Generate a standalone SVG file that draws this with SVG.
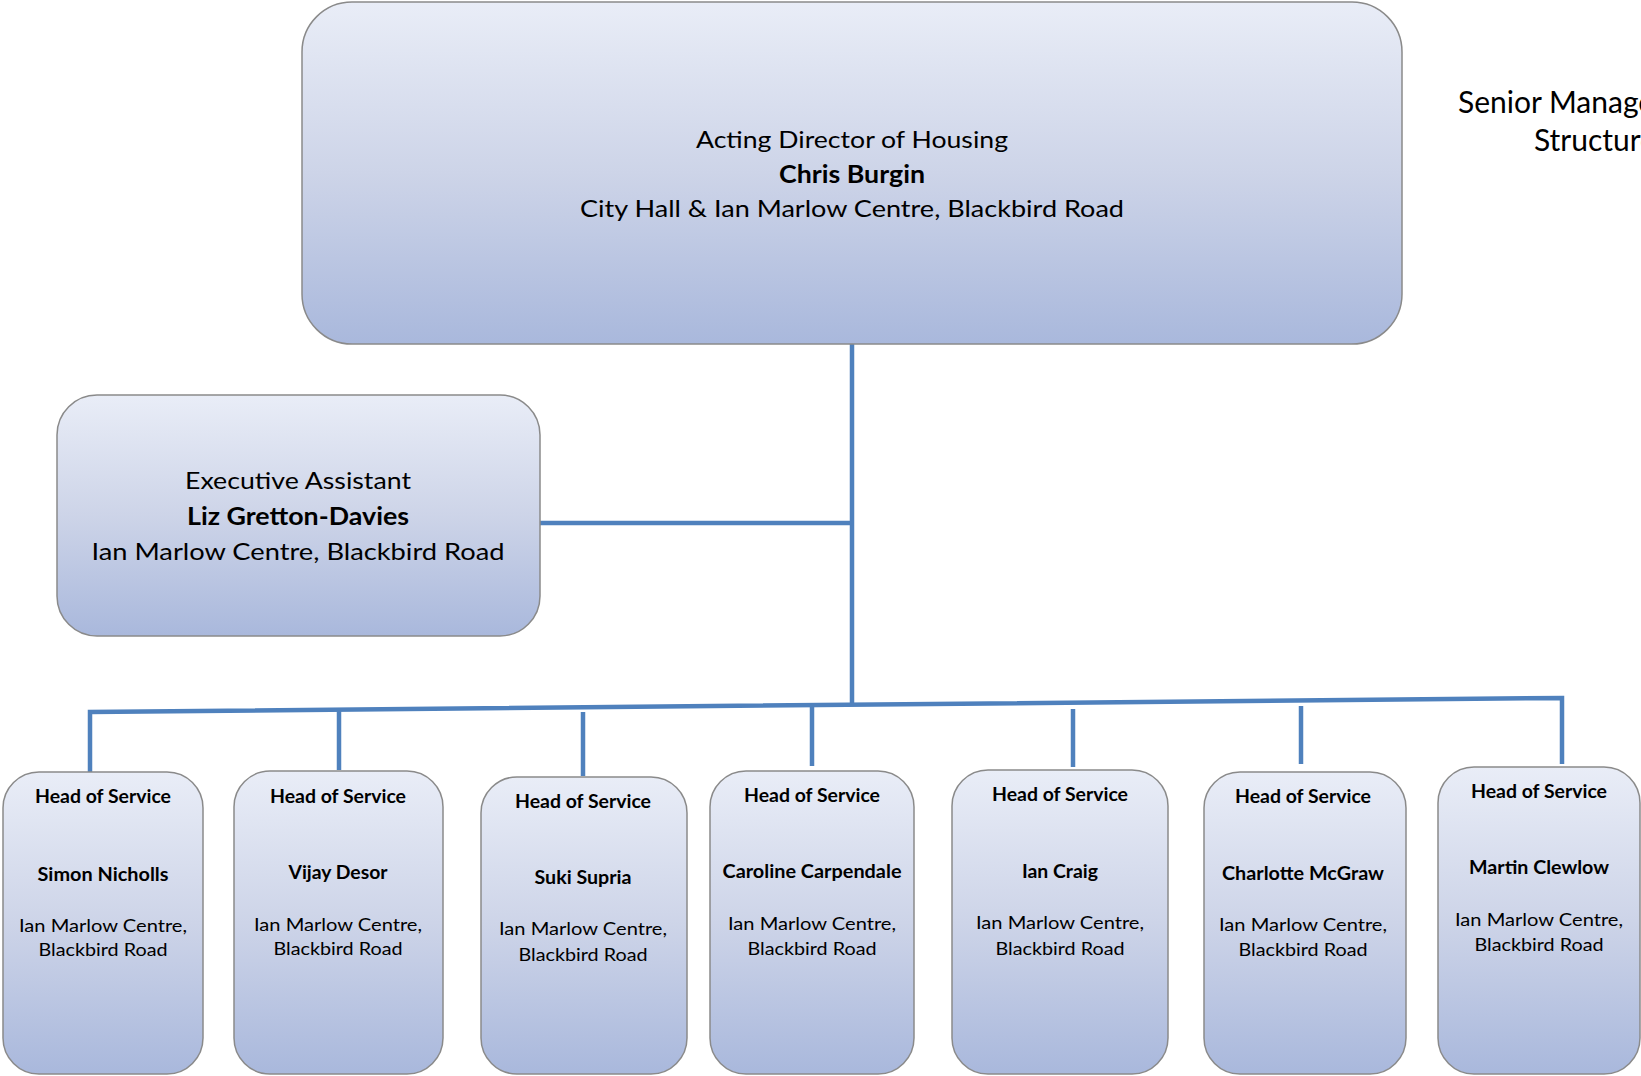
<svg xmlns="http://www.w3.org/2000/svg" width="1641" height="1076" viewBox="0 0 1641 1076">
<defs>
<linearGradient id="g" x1="0" y1="0" x2="0" y2="1">
<stop offset="0" stop-color="#e9edf7"/>
<stop offset="0.5" stop-color="#cdd4e8"/>
<stop offset="1" stop-color="#a9b8dc"/>
</linearGradient>
<style>
.box{fill:url(#g);stroke:#8a8a8a;stroke-width:1.5}
.t{font-family:Lato,"Liberation Sans",sans-serif;fill:#000;text-anchor:middle}
.big{font-size:24px}
.sm{font-size:18px}
.b{font-weight:bold}
.c{stroke:#4f81bd;stroke-width:4.5;fill:none}
</style>
</defs>
<rect width="1641" height="1076" fill="#fff"/>
<g id="connectors">
<line class="c" x1="852" y1="344" x2="852" y2="705"/>
<line class="c" x1="540" y1="523" x2="852" y2="523"/>
<polyline class="c" points="90,772 90,712 1562,698 1562,764"/>
<line class="c" x1="339" y1="711" x2="339" y2="770"/>
<line class="c" x1="583" y1="712" x2="583" y2="776"/>
<line class="c" x1="812" y1="707" x2="812" y2="766"/>
<line class="c" x1="1073" y1="709" x2="1073" y2="767"/>
<line class="c" x1="1301" y1="706" x2="1301" y2="764"/>
</g>
<g id="director">
<rect class="box" x="302" y="2" width="1100" height="342" rx="50"/>
<text class="t big" x="852" y="148" textLength="312" lengthAdjust="spacingAndGlyphs">Acting Director of Housing</text>
<text class="t big b" x="852" y="183" textLength="146" lengthAdjust="spacingAndGlyphs">Chris Burgin</text>
<text class="t big" x="852" y="217" textLength="544" lengthAdjust="spacingAndGlyphs">City Hall &amp; Ian Marlow Centre, Blackbird Road</text>
</g>
<g id="title">
<text class="t" x="1458" y="113" style="text-anchor:start;font-size:30px">Senior Management</text>
<text class="t" x="1534" y="151" style="text-anchor:start;font-size:30px">Structure</text>
</g>
<g id="assistant">
<rect class="box" x="57" y="395" width="483" height="241" rx="40"/>
<text class="t big" x="298" y="489" textLength="226" lengthAdjust="spacingAndGlyphs">Executive Assistant</text>
<text class="t big b" x="298" y="525" textLength="222" lengthAdjust="spacingAndGlyphs">Liz Gretton-Davies</text>
<text class="t big" x="298" y="560" textLength="413" lengthAdjust="spacingAndGlyphs">Ian Marlow Centre, Blackbird Road</text>
</g>
<g id="hos1">
<rect class="box" x="3" y="772" width="200" height="302" rx="36"/>
<text class="t sm b" x="103" y="803" textLength="136" lengthAdjust="spacingAndGlyphs">Head of Service</text>
<text class="t sm b" x="103" y="881" textLength="131" lengthAdjust="spacingAndGlyphs">Simon Nicholls</text>
<text class="t sm" x="103" y="932" textLength="168" lengthAdjust="spacingAndGlyphs">Ian Marlow Centre,</text>
<text class="t sm" x="103" y="956" textLength="129" lengthAdjust="spacingAndGlyphs">Blackbird Road</text>
</g>
<g id="hos2">
<rect class="box" x="234" y="771" width="209" height="303" rx="36"/>
<text class="t sm b" x="338" y="803" textLength="136" lengthAdjust="spacingAndGlyphs">Head of Service</text>
<text class="t sm b" x="338" y="879" textLength="99" lengthAdjust="spacingAndGlyphs">Vijay Desor</text>
<text class="t sm" x="338" y="931" textLength="168" lengthAdjust="spacingAndGlyphs">Ian Marlow Centre,</text>
<text class="t sm" x="338" y="955" textLength="129" lengthAdjust="spacingAndGlyphs">Blackbird Road</text>
</g>
<g id="hos3">
<rect class="box" x="481" y="777" width="206" height="297" rx="36"/>
<text class="t sm b" x="583" y="808" textLength="136" lengthAdjust="spacingAndGlyphs">Head of Service</text>
<text class="t sm b" x="583" y="884" textLength="97" lengthAdjust="spacingAndGlyphs">Suki Supria</text>
<text class="t sm" x="583" y="935" textLength="168" lengthAdjust="spacingAndGlyphs">Ian Marlow Centre,</text>
<text class="t sm" x="583" y="961" textLength="129" lengthAdjust="spacingAndGlyphs">Blackbird Road</text>
</g>
<g id="hos4">
<rect class="box" x="710" y="771" width="204" height="303" rx="36"/>
<text class="t sm b" x="812" y="802" textLength="136" lengthAdjust="spacingAndGlyphs">Head of Service</text>
<text class="t sm b" x="812" y="878" textLength="179" lengthAdjust="spacingAndGlyphs">Caroline Carpendale</text>
<text class="t sm" x="812" y="930" textLength="168" lengthAdjust="spacingAndGlyphs">Ian Marlow Centre,</text>
<text class="t sm" x="812" y="955" textLength="129" lengthAdjust="spacingAndGlyphs">Blackbird Road</text>
</g>
<g id="hos5">
<rect class="box" x="952" y="770" width="216" height="304" rx="36"/>
<text class="t sm b" x="1060" y="801" textLength="136" lengthAdjust="spacingAndGlyphs">Head of Service</text>
<text class="t sm b" x="1060" y="878" textLength="76" lengthAdjust="spacingAndGlyphs">Ian Craig</text>
<text class="t sm" x="1060" y="929" textLength="168" lengthAdjust="spacingAndGlyphs">Ian Marlow Centre,</text>
<text class="t sm" x="1060" y="955" textLength="129" lengthAdjust="spacingAndGlyphs">Blackbird Road</text>
</g>
<g id="hos6">
<rect class="box" x="1204" y="772" width="202" height="302" rx="36"/>
<text class="t sm b" x="1303" y="803" textLength="136" lengthAdjust="spacingAndGlyphs">Head of Service</text>
<text class="t sm b" x="1303" y="880" textLength="162" lengthAdjust="spacingAndGlyphs">Charlotte McGraw</text>
<text class="t sm" x="1303" y="931" textLength="168" lengthAdjust="spacingAndGlyphs">Ian Marlow Centre,</text>
<text class="t sm" x="1303" y="956" textLength="129" lengthAdjust="spacingAndGlyphs">Blackbird Road</text>
</g>
<g id="hos7">
<rect class="box" x="1438" y="767" width="202" height="307" rx="36"/>
<text class="t sm b" x="1539" y="798" textLength="136" lengthAdjust="spacingAndGlyphs">Head of Service</text>
<text class="t sm b" x="1539" y="874" textLength="140" lengthAdjust="spacingAndGlyphs">Martin Clewlow</text>
<text class="t sm" x="1539" y="926" textLength="168" lengthAdjust="spacingAndGlyphs">Ian Marlow Centre,</text>
<text class="t sm" x="1539" y="951" textLength="129" lengthAdjust="spacingAndGlyphs">Blackbird Road</text>
</g>
</svg>
